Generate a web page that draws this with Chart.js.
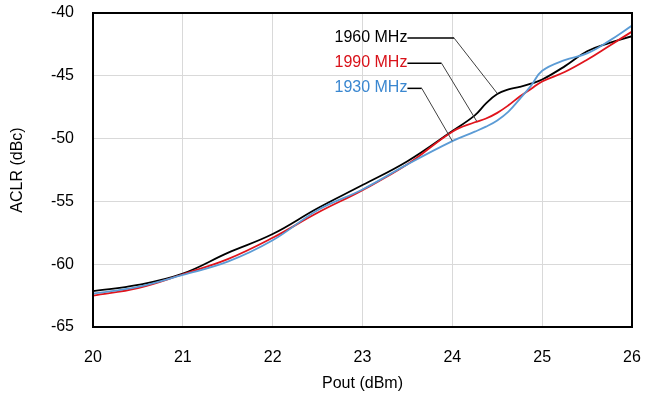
<!DOCTYPE html>
<html>
<head>
<meta charset="utf-8">
<script src="https://cdn.jsdelivr.net/npm/chart.js@4"></script>
<style>
  html, body { margin: 0; padding: 0; background: #fff; }
  #wrap { width: 645px; height: 398px; }
</style>
</head>
<body>
<div id="wrap"><canvas id="aclrChart"></canvas></div>
<script>
// Pout (dBm) sample points
const pout = [20, 20.5, 21, 21.5, 22, 22.5, 23, 23.5, 24, 24.25, 24.375, 24.5, 24.625, 24.75, 24.875, 25, 25.25, 25.5, 25.75, 26];

// ACLR (dBc) per frequency
const aclr1960 = [-62.15, -61.65, -60.75, -59.1, -57.6, -55.55, -53.7, -51.8, -49.4, -48.15, -47.2, -46.45, -46.08, -45.88, -45.63, -45.3, -44.25, -43.05, -42.38, -41.85];
const aclr1990 = [-62.5, -61.9, -60.8, -59.6, -57.9, -55.9, -54.1, -52.05, -49.45, -48.7, -48.4, -47.95, -47.35, -46.65, -46.05, -45.45, -44.7, -43.72, -42.6, -41.48];
const aclr1930 = [-62.35, -61.8, -60.85, -59.8, -58.1, -55.7, -54.05, -52.05, -50.2, -49.45, -49.05, -48.55, -47.85, -46.85, -45.8, -44.6, -43.75, -43.22, -42.2, -41.0];

const seriesNames = ['1960 MHz', '1990 MHz', '1930 MHz'];
const seriesColors = ['#000000', '#e0141c', '#5b9bd5'];
const labelColors = ['#000000', '#d9121a', '#3a87d0'];

// callout labels (data units): text right end, elbow x, pointer tip
const calloutY = [-42.0, -44.0, -46.0];
const calloutTextX = [23.5, 23.5, 23.5];
const calloutElbowX = [24.02, 23.88, 23.66];
const calloutTipX = [24.5, 24.27, 24.0];
const calloutTipY = [-46.4, -48.6, -50.2];

const xTicks = [20, 21, 22, 23, 24, 25, 26];
const yTicks = [-65, -60, -55, -50, -45, -40];

const FONT = 'Liberation Sans, Arial, sans-serif';

const calloutPlugin = {
    id: 'callouts',
    afterDatasetsDraw(chart) {
        const ctx = chart.ctx;
        const xs = chart.scales.x, ys = chart.scales.y;
        const a = chart.chartArea;
        ctx.save();
        // plot area frame
        ctx.strokeStyle = '#000';
        ctx.lineWidth = 2;
        ctx.strokeRect(a.left, a.top, a.right - a.left, a.bottom - a.top);

        ctx.font = '16px ' + FONT;
        ctx.textAlign = 'right';
        ctx.textBaseline = 'middle';
        for (let i = 0; i < seriesNames.length; i++) {
            const tx = xs.getPixelForValue(calloutTextX[i]);
            const ty = ys.getPixelForValue(calloutY[i]);
            const ex = xs.getPixelForValue(calloutElbowX[i]);
            const px = xs.getPixelForValue(calloutTipX[i]);
            const py = ys.getPixelForValue(calloutTipY[i]);
            ctx.fillStyle = labelColors[i];
            ctx.fillText(seriesNames[i], tx, ty - 1);
            ctx.strokeStyle = '#000';
            ctx.lineWidth = 1.5;
            ctx.beginPath();
            ctx.moveTo(tx, ty);
            ctx.lineTo(ex, ty);
            ctx.stroke();
            ctx.strokeStyle = '#404040';
            ctx.lineWidth = 1;
            ctx.beginPath();
            ctx.moveTo(ex, ty);
            ctx.lineTo(px, py);
            ctx.stroke();
        }
        ctx.restore();
    }
};

const datasets = [aclr1960, aclr1990, aclr1930].map((vals, i) => ({
    label: seriesNames[i],
    data: pout.map((x, j) => ({ x: x, y: vals[j] })),
    borderColor: seriesColors[i],
    borderWidth: 1.8,
    pointRadius: 0,
    fill: false,
    tension: 0.4
}));
// draw order: blue, red, black on top
datasets.reverse();

new Chart(document.getElementById('aclrChart'), {
    type: 'line',
    data: { datasets: datasets },
    options: {
        responsive: true,
        maintainAspectRatio: false,
        animation: false,
        layout: { padding: { top: 13, right: 13, left: 0, bottom: 0 } },
        plugins: {
            legend: { display: false },
            tooltip: { enabled: false }
        },
        scales: {
            x: {
                type: 'linear',
                min: 20,
                max: 26,
                afterBuildTicks: (axis) => { axis.ticks = xTicks.map(v => ({ value: v })); },
                afterFit: (axis) => {
                    axis.height = 71;
                    axis.paddingLeft = 0;
                    axis.paddingRight = 0;
                },
                grid: { color: '#d9d9d9', lineWidth: 1, drawTicks: false },
                border: { display: false },
                ticks: { color: '#000', font: { family: FONT, size: 16 }, padding: 21, maxRotation: 0 },
                title: { display: true, text: 'Pout (dBm)', color: '#000', font: { family: FONT, size: 16 }, padding: { top: 0, bottom: 5 } }
            },
            y: {
                min: -65,
                max: -40,
                afterBuildTicks: (axis) => { axis.ticks = yTicks.map(v => ({ value: v })); },
                afterFit: (axis) => {
                    axis.width = 93;
                    axis.paddingTop = 0;
                    axis.paddingBottom = 0;
                },
                grid: { color: '#d9d9d9', lineWidth: 1, drawTicks: false },
                border: { display: false },
                ticks: { color: '#000', font: { family: FONT, size: 16 }, padding: 19 },
                title: { display: true, text: 'ACLR (dBc)', color: '#000', font: { family: FONT, size: 16 }, padding: { top: 8, bottom: 0 } }
            }
        }
    },
    plugins: [calloutPlugin]
});
</script>
</body>
</html>
